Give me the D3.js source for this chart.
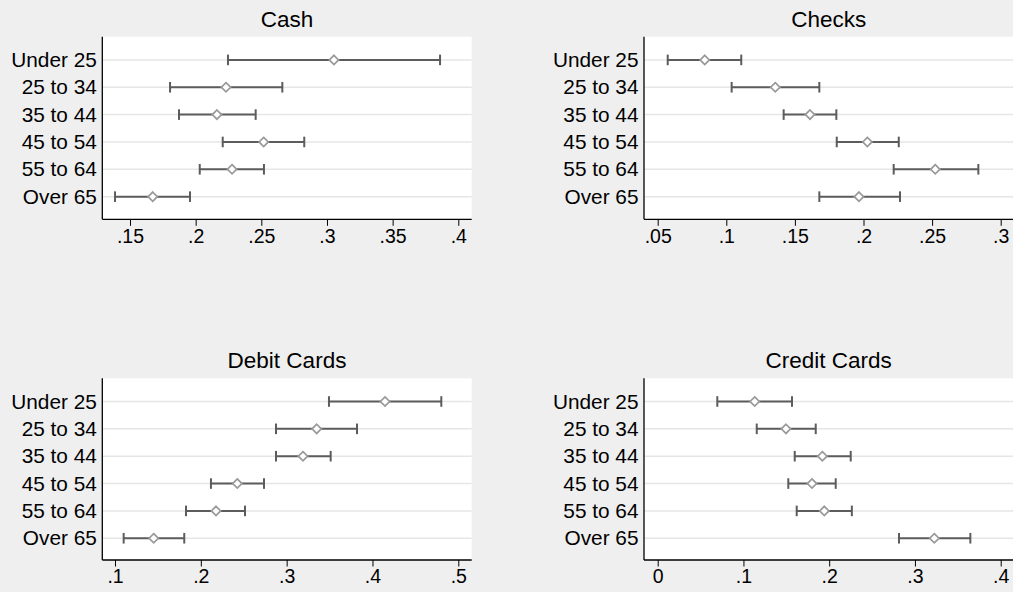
<!DOCTYPE html>
<html>
<head>
<meta charset="utf-8">
<script src="https://cdn.jsdelivr.net/npm/d3@7/dist/d3.min.js"></script>
<style>
  html, body { margin: 0; padding: 0; background: #efefef; }
  svg { display: block; }
  text { font-family: "Liberation Sans", Arial, Helvetica, sans-serif; fill: #000; }
</style>
</head>
<body>
<svg id="chart" width="1013" height="592"></svg>
<script>
// ---- data ----
const ageGroups = ["Under 25", "25 to 34", "35 to 44", "45 to 54", "55 to 64", "Over 65"];

const panelTitles = ["Cash", "Checks", "Debit Cards", "Credit Cards"];

const cashMean  = [0.3053, 0.2231, 0.2162, 0.2518, 0.2277, 0.1673];
const cashLow   = [0.2246, 0.1805, 0.1873, 0.2206, 0.2031, 0.1386];
const cashHigh  = [0.3861, 0.2660, 0.2457, 0.2827, 0.2520, 0.1957];

const checksMean = [0.0843, 0.1357, 0.1610, 0.2028, 0.2523, 0.1967];
const checksLow  = [0.0573, 0.1039, 0.1418, 0.1805, 0.2220, 0.1678];
const checksHigh = [0.1109, 0.1678, 0.1802, 0.2257, 0.2837, 0.2266];

const debitMean = [0.4146, 0.3350, 0.3190, 0.2425, 0.2177, 0.1451];
const debitLow  = [0.3493, 0.2876, 0.2876, 0.2118, 0.1827, 0.1101];
const debitHigh = [0.4802, 0.3820, 0.3513, 0.2736, 0.2515, 0.1807];

const creditMean = [0.1131, 0.1496, 0.1920, 0.1799, 0.1943, 0.3226];
const creditLow  = [0.0695, 0.1155, 0.1598, 0.1523, 0.1621, 0.2814];
const creditHigh = [0.1566, 0.1843, 0.2251, 0.2076, 0.2264, 0.3646];

const cashTicks   = [0.15, 0.2, 0.25, 0.3, 0.35, 0.4];
const checksTicks = [0.05, 0.1, 0.15, 0.2, 0.25, 0.3];
const debitTicks  = [0.1, 0.2, 0.3, 0.4, 0.5];
const creditTicks = [0, 0.1, 0.2, 0.3, 0.4];

// ---- layout ----
const panels = [
  { title: panelTitles[0], mean: cashMean,   low: cashLow,   high: cashHigh,   ticks: cashTicks,
    left: 102.3, right: 471.7, top: 36.7, bottom: 219.3, tickPx: [130, 458.3] },
  { title: panelTitles[1], mean: checksMean, low: checksLow, high: checksHigh, ticks: checksTicks,
    left: 644, right: 1014, top: 36.7, bottom: 219.3, tickPx: [657.7, 1000.7] },
  { title: panelTitles[2], mean: debitMean,  low: debitLow,  high: debitHigh,  ticks: debitTicks,
    left: 102.3, right: 471.7, top: 378.3, bottom: 560, tickPx: [115, 458.3] },
  { title: panelTitles[3], mean: creditMean, low: creditLow, high: creditHigh, ticks: creditTicks,
    left: 644, right: 1014, top: 378.3, bottom: 560, tickPx: [657.7, 1000.7] }
];

const fmt = v => {
  if (v === 0) return "0";
  let s = String(+v.toFixed(2));
  return s.replace(/^0\./, ".");
};

const svg = d3.select("#chart");

panels.forEach(p => {
  const g = svg.append("g");
  const t = p.ticks;
  const x = d3.scaleLinear().domain([t[0], t[t.length - 1]]).range(p.tickPx);
  const rowGap = 27.35;
  const y = d3.scalePoint().domain(ageGroups)
    .range([p.top + 23.2, p.top + 23.2 + rowGap * (ageGroups.length - 1)]);

  // plot background
  g.append("rect").attr("x", p.left).attr("y", p.top)
    .attr("width", p.right - p.left).attr("height", p.bottom - p.top)
    .attr("fill", "#ffffff");

  // grid lines
  g.selectAll(".grid").data(ageGroups).enter().append("line")
    .attr("x1", p.left).attr("x2", p.right)
    .attr("y1", d => y(d)).attr("y2", d => y(d))
    .attr("stroke", "#e6e6e6").attr("stroke-width", 1.5);

  // title
  g.append("text").attr("x", (p.left + Math.min(p.right, 1013.4)) / 2).attr("y", p.top - 10)
    .attr("text-anchor", "middle").style("font-size", "22.5px").text(p.title);

  // x axis
  const xAxis = d3.axisBottom(x).tickValues(t).tickFormat(fmt).tickSize(6.5).tickPadding(3);
  const ax = g.append("g").attr("transform", `translate(0,${p.bottom})`).call(xAxis);
  ax.select(".domain").remove();
  ax.selectAll(".tick line").attr("stroke", "#000").attr("stroke-width", 1);
  ax.selectAll(".tick text").style("font-size", "19.5px").style("font-family", "Liberation Sans, Arial, sans-serif").attr("fill", "#000");
  g.append("line").attr("x1", p.left).attr("x2", p.right)
    .attr("y1", p.bottom).attr("y2", p.bottom).attr("stroke", "#000").attr("stroke-width", 1.3);

  // y axis
  const yAxis = d3.axisLeft(y).tickSize(0).tickPadding(5.5);
  const ay = g.append("g").attr("transform", `translate(${p.left},0)`).call(yAxis);
  ay.select(".domain").remove();
  ay.selectAll(".tick text").style("font-size", "20.8px").style("font-family", "Liberation Sans, Arial, sans-serif").attr("fill", "#000");
  g.append("line").attr("x1", p.left).attr("x2", p.left)
    .attr("y1", p.top).attr("y2", p.bottom).attr("stroke", "#000").attr("stroke-width", 1.3);

  const rows = ageGroups.map((a, i) => ({ a, m: p.mean[i], lo: p.low[i], hi: p.high[i] }));
  const col = "#5c5c5c";
  // error bars
  g.selectAll(".eb").data(rows).enter().append("line")
    .attr("x1", d => x(d.lo)).attr("x2", d => x(d.hi))
    .attr("y1", d => y(d.a)).attr("y2", d => y(d.a))
    .attr("stroke", col).attr("stroke-width", 2);
  [["lo"], ["hi"]].forEach(([k]) => {
    g.selectAll(".cap" + k).data(rows).enter().append("line")
      .attr("x1", d => x(d[k])).attr("x2", d => x(d[k]))
      .attr("y1", d => y(d.a) - 5.3).attr("y2", d => y(d.a) + 5.3)
      .attr("stroke", col).attr("stroke-width", 2);
  });
  // diamonds
  const r = 4.6;
  g.selectAll(".pt").data(rows).enter().append("path")
    .attr("d", d => {
      const cx = x(d.m), cy = y(d.a);
      return `M${cx},${cy - r}L${cx + r},${cy}L${cx},${cy + r}L${cx - r},${cy}Z`;
    })
    .attr("fill", "#ffffff").attr("stroke", "#999999").attr("stroke-width", 1.7);
});
</script>
</body>
</html>
